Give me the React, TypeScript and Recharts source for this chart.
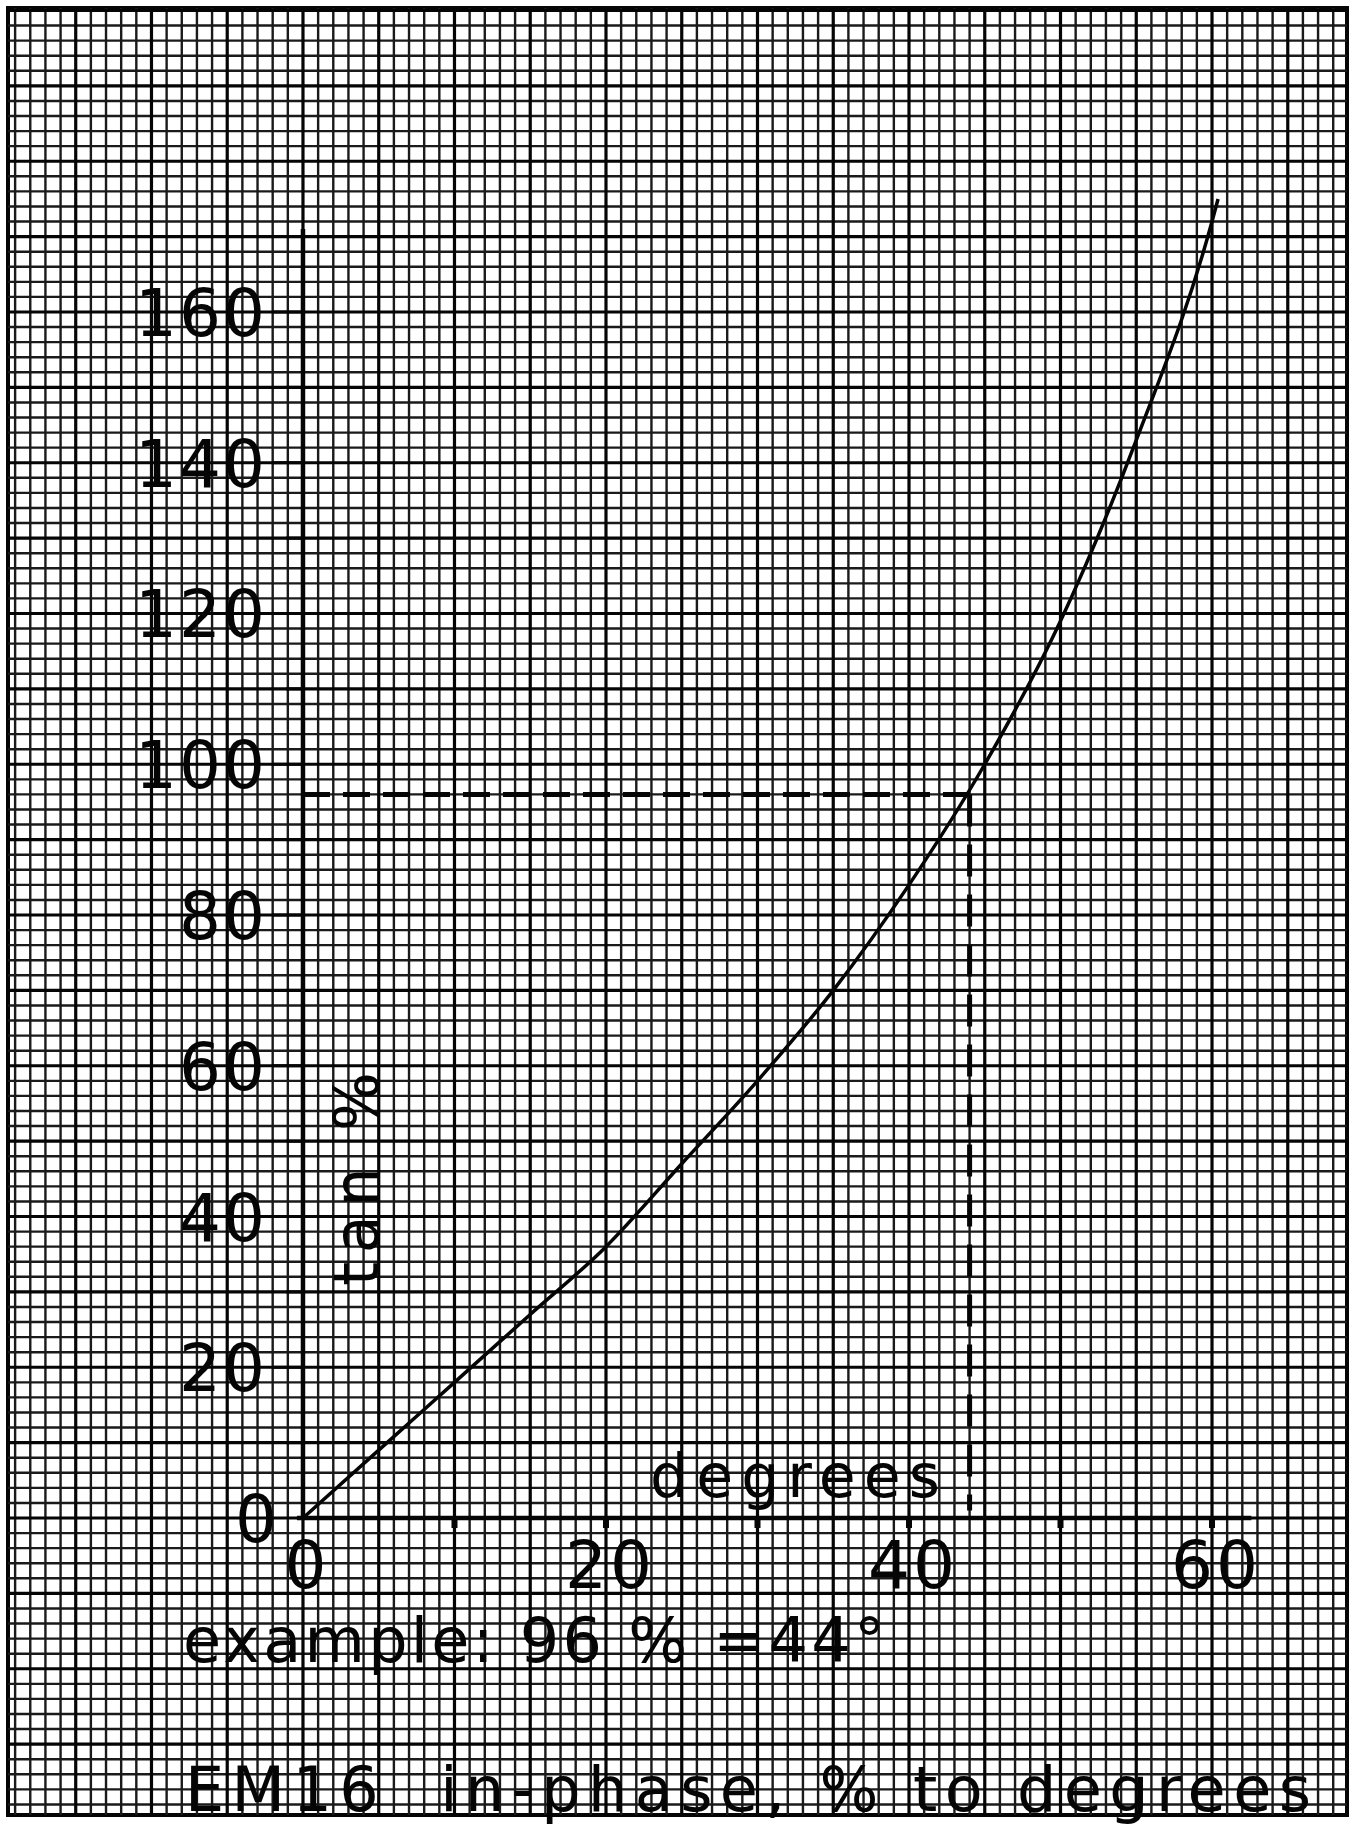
import React from 'react';
import {
  LineChart,
  Line,
  XAxis,
  YAxis,
  ReferenceLine,
  ReferenceDot,
  ReferenceArea,
} from 'recharts';

// curve: degrees -> tan %
const degrees = [0, 5, 10, 15, 20, 25, 30, 35, 40, 45, 50, 55, 60, 60.4];
const tanPercent = [0, 9, 18, 27, 36, 47, 58, 70, 84, 100, 119, 143, 172, 175];

const xTickLabels = [0, 20, 40, 60];
const xTickMarks = [10, 20, 30, 40, 50, 60];
const yTickLabels = [0, 20, 40, 60, 80, 100, 120, 140, 160];
const yMinorTicks = [10, 30, 50, 70, 90, 110, 130, 150];

// worked example on the sheet
const examplePercent = 96;
const exampleDegrees = 44;

// axis extents as drawn
const xAxisEnd = 62.6;
const yAxisEnd = 171;

// the whole sheet of graph paper, in chart units (1 deg = 1 small square, 2 % = 1 small square)
const X_MIN = -19.47;
const X_MAX = 68.91;
const Y_MIN = -39.4;
const Y_MAX = 200.33;

const range = (from: number, to: number, step: number) => {
  const out: number[] = [];
  for (let v = from; v <= to + 1e-9; v += step) out.push(v);
  return out;
};
const gridMinorX = range(-19, 68, 1).filter((v) => v % 5 !== 0);
const gridMajorX = range(-15, 65, 5);
const gridMinorY = range(-38, 200, 2).filter((v) => v % 10 !== 0);
const gridMajorY = range(-30, 200, 10);

const data = degrees.map((d, i) => ({ deg: d, tan: tanPercent[i] }));

const FONT = '"DejaVu Sans", "Liberation Sans", sans-serif';
const INK = '#050505';

const YTick = (props: any) => {
  const { cx, cy, value, minor } = props;
  if (minor) {
    return <line x1={cx - 17} y1={cy} x2={cx} y2={cy} stroke={INK} strokeWidth={3} />;
  }
  const isZero = value === 0;
  return (
    <g>
      {!isZero && <line x1={cx - 31} y1={cy} x2={cx} y2={cy} stroke={INK} strokeWidth={3} />}
      <text
        x={isZero ? cx - 24 : cx - 36}
        y={cy + 24}
        textAnchor="end"
        fontFamily={FONT}
        fontSize={66}
        letterSpacing={2}
        fill={INK}
      >
        {value}
      </text>
    </g>
  );
};

const XTick = (props: any) => {
  const { cx, cy } = props;
  return <rect x={cx - 3} y={cy - 2} width={6} height={12} fill={INK} />;
};

const XLabel = (props: any) => {
  const { cx, cy, value } = props;
  return (
    <text
      x={cx + 4}
      y={cy + 70}
      textAnchor="middle"
      fontFamily={FONT}
      fontSize={66}
      letterSpacing={3}
      fill={INK}
    >
      {value}
    </text>
  );
};

export default function App() {
  return (
    <div style={{ position: 'absolute', left: 0, top: 0, width: 1355, height: 1827, background: '#fff' }}>
      <LineChart
        width={1355}
        height={1827}
        data={data}
        margin={{ top: 8, right: 8, bottom: 12, left: 8 }}
      >
        <XAxis type="number" dataKey="deg" domain={[X_MIN, X_MAX]} allowDataOverflow hide />
        <YAxis type="number" dataKey="tan" domain={[Y_MIN, Y_MAX]} allowDataOverflow hide />

        {gridMinorX.map((v) => (
          <ReferenceLine key={`mx${v}`} x={v} stroke="#1a1a1a" strokeWidth={2.4} />
        ))}
        {gridMinorY.map((v) => (
          <ReferenceLine key={`my${v}`} y={v} stroke="#1a1a1a" strokeWidth={2.4} />
        ))}
        {gridMajorX.map((v) => (
          <ReferenceLine key={`Mx${v}`} x={v} stroke={INK} strokeWidth={3.2} />
        ))}
        {gridMajorY.map((v) => (
          <ReferenceLine key={`My${v}`} y={v} stroke={INK} strokeWidth={3.2} />
        ))}
        <ReferenceArea
          x1={X_MIN}
          x2={X_MAX}
          y1={Y_MIN}
          y2={Y_MAX}
          fill="none"
          fillOpacity={0}
          stroke={INK}
          strokeWidth={4}
        />

        {/* axes */}
        <ReferenceLine segment={[{ x: 0, y: 0 }, { x: 0, y: yAxisEnd }]} stroke={INK} strokeWidth={4.5} />
        <ReferenceLine segment={[{ x: -0.4, y: 0 }, { x: xAxisEnd, y: 0 }]} stroke={INK} strokeWidth={4.5} />

        {/* example read-off */}
        <ReferenceLine
          segment={[{ x: 0, y: examplePercent }, { x: exampleDegrees, y: examplePercent }]}
          stroke={INK}
          strokeWidth={5}
          strokeDasharray="27 13"
        />
        <ReferenceLine
          segment={[{ x: exampleDegrees, y: examplePercent }, { x: exampleDegrees, y: 1 }]}
          stroke={INK}
          strokeWidth={5}
          strokeDasharray="32 18"
        />

        {yTickLabels.map((v) => (
          <ReferenceDot key={`yt${v}`} x={0} y={v} r={0} shape={(p: any) => <YTick {...p} value={v} />} />
        ))}
        {yMinorTicks.map((v) => (
          <ReferenceDot key={`ym${v}`} x={0} y={v} r={0} shape={(p: any) => <YTick {...p} value={v} minor />} />
        ))}
        {xTickMarks.map((v) => (
          <ReferenceDot key={`xt${v}`} x={v} y={0} r={0} shape={(p: any) => <XTick {...p} />} />
        ))}
        {xTickLabels.map((v) => (
          <ReferenceDot key={`xl${v}`} x={v} y={0} r={0} shape={(p: any) => <XLabel {...p} value={v} />} />
        ))}

        <Line
          type="monotone"
          dataKey="tan"
          stroke={INK}
          strokeWidth={3.5}
          dot={false}
          activeDot={false}
          isAnimationActive={false}
        />
      </LineChart>

      <svg
        width={1355}
        height={1827}
        style={{ position: 'absolute', left: 0, top: 0, pointerEvents: 'none' }}
      >
        <g fontFamily={FONT} fill={INK}>
          <text x={650} y={1497} fontSize={60} textLength={290} lengthAdjust="spacing">
            degrees
          </text>
          <text transform="translate(378,1286) rotate(-90)" fontSize={62} textLength={214} lengthAdjust="spacing" style={{ whiteSpace: 'pre' }}>
            tan %
          </text>
          <text x={183} y={1662} fontSize={62} textLength={702} lengthAdjust="spacing" style={{ whiteSpace: 'pre' }}>
            example: 96 % =44°
          </text>
          <text x={185} y={1811} fontSize={62} textLength={1126} lengthAdjust="spacing" style={{ whiteSpace: 'pre' }}>
            EM16  in-phase, % to degrees
          </text>
        </g>
      </svg>
    </div>
  );
}
